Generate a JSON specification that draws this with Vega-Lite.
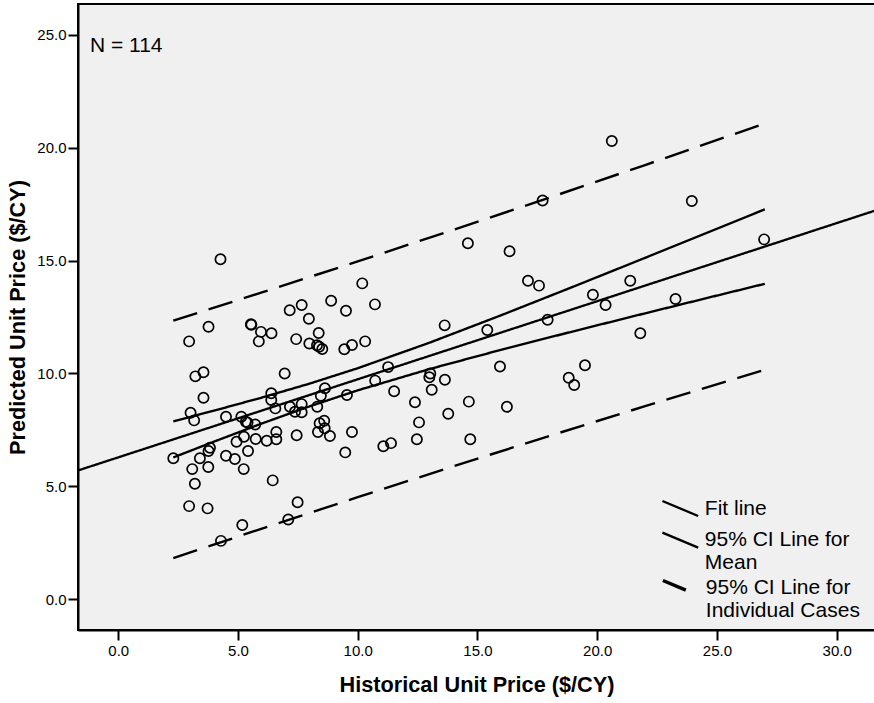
{
  "$schema": "https://vega.github.io/schema/vega-lite/v6.json",
  "width": 797,
  "height": 626,
  "autosize": {"type": "none"},
  "padding": {"left": 78, "top": 4, "right": 0, "bottom": 73},
  "background": "white",
  "config": {
    "font": "Liberation Sans",
    "view": {"fill": "#F0F0F0", "stroke": "#000", "strokeWidth": 2},
    "axis": {
      "grid": false,
      "domainColor": "#000",
      "domainWidth": 2,
      "tickColor": "#000",
      "tickWidth": 2,
      "tickSize": 10,
      "labelFont": "Liberation Sans",
      "labelFontSize": 15,
      "labelColor": "#000",
      "titleFont": "Liberation Sans",
      "titleFontSize": 21.7,
      "titleFontWeight": "bold",
      "titleColor": "#000"
    },
    "legend": {
      "title": null,
      "orient": "none",
      "padding": 0,
      "symbolStrokeColor": "#000",
      "symbolFillColor": "transparent",
      "labelFont": "Liberation Sans",
      "labelFontSize": 21,
      "labelColor": "#000",
      "labelLimit": 0
    }
  },
  "datasets": {
    "points": [
      {"hist": 4.27, "pred": 15.06}, {"hist": 10.19, "pred": 13.99}, {"hist": 7.16, "pred": 12.80}, {"hist": 7.66, "pred": 13.03},
      {"hist": 8.89, "pred": 13.22}, {"hist": 9.51, "pred": 12.78}, {"hist": 7.96, "pred": 12.42}, {"hist": 3.77, "pred": 12.07},
      {"hist": 5.54, "pred": 12.18}, {"hist": 5.56, "pred": 12.16}, {"hist": 2.96, "pred": 11.42}, {"hist": 5.96, "pred": 11.84},
      {"hist": 6.40, "pred": 11.78}, {"hist": 5.87, "pred": 11.42}, {"hist": 7.43, "pred": 11.52}, {"hist": 8.37, "pred": 11.79},
      {"hist": 7.98, "pred": 11.33}, {"hist": 8.30, "pred": 11.25}, {"hist": 8.39, "pred": 11.18}, {"hist": 8.52, "pred": 11.08},
      {"hist": 9.44, "pred": 11.07}, {"hist": 9.76, "pred": 11.26}, {"hist": 10.31, "pred": 11.42}, {"hist": 3.22, "pred": 9.87},
      {"hist": 3.56, "pred": 10.05}, {"hist": 6.95, "pred": 10.00}, {"hist": 3.56, "pred": 8.92}, {"hist": 3.02, "pred": 8.26},
      {"hist": 3.17, "pred": 7.92}, {"hist": 4.50, "pred": 8.08}, {"hist": 5.14, "pred": 8.08}, {"hist": 5.33, "pred": 7.86},
      {"hist": 5.40, "pred": 7.82}, {"hist": 5.72, "pred": 7.74}, {"hist": 6.39, "pred": 9.12}, {"hist": 6.39, "pred": 8.82},
      {"hist": 6.56, "pred": 8.45}, {"hist": 7.17, "pred": 8.52}, {"hist": 7.38, "pred": 8.30}, {"hist": 7.66, "pred": 8.64},
      {"hist": 7.66, "pred": 8.28}, {"hist": 8.31, "pred": 8.52}, {"hist": 8.46, "pred": 9.01}, {"hist": 8.63, "pred": 9.34},
      {"hist": 9.55, "pred": 9.04}, {"hist": 8.41, "pred": 7.79}, {"hist": 8.60, "pred": 7.90}, {"hist": 8.62, "pred": 7.57},
      {"hist": 8.34, "pred": 7.40}, {"hist": 8.84, "pred": 7.23}, {"hist": 9.76, "pred": 7.40}, {"hist": 9.48, "pred": 6.50},
      {"hist": 7.45, "pred": 7.26}, {"hist": 6.60, "pred": 7.40}, {"hist": 6.60, "pred": 7.08}, {"hist": 6.20, "pred": 7.02},
      {"hist": 5.74, "pred": 7.09}, {"hist": 5.25, "pred": 7.19}, {"hist": 4.94, "pred": 6.97}, {"hist": 5.42, "pred": 6.56},
      {"hist": 3.83, "pred": 6.71}, {"hist": 3.77, "pred": 6.56}, {"hist": 2.30, "pred": 6.24}, {"hist": 3.41, "pred": 6.24},
      {"hist": 4.50, "pred": 6.35}, {"hist": 4.87, "pred": 6.21}, {"hist": 3.09, "pred": 5.76}, {"hist": 3.76, "pred": 5.85},
      {"hist": 5.24, "pred": 5.76}, {"hist": 3.20, "pred": 5.11}, {"hist": 6.45, "pred": 5.26}, {"hist": 2.96, "pred": 4.12},
      {"hist": 3.73, "pred": 4.02}, {"hist": 7.49, "pred": 4.29}, {"hist": 7.10, "pred": 3.53}, {"hist": 5.18, "pred": 3.28},
      {"hist": 4.29, "pred": 2.58},
      {"hist": 17.72, "pred": 17.66}, {"hist": 14.60, "pred": 15.77}, {"hist": 16.34, "pred": 15.41}, {"hist": 10.72, "pred": 13.06},
      {"hist": 17.11, "pred": 14.11}, {"hist": 17.57, "pred": 13.89}, {"hist": 13.63, "pred": 12.13}, {"hist": 15.41, "pred": 11.92},
      {"hist": 17.93, "pred": 12.38}, {"hist": 11.27, "pred": 10.28}, {"hist": 10.73, "pred": 9.68}, {"hist": 11.52, "pred": 9.21},
      {"hist": 13.03, "pred": 10.00}, {"hist": 12.99, "pred": 9.83}, {"hist": 13.64, "pred": 9.72}, {"hist": 13.09, "pred": 9.28},
      {"hist": 12.39, "pred": 8.72}, {"hist": 12.56, "pred": 7.83}, {"hist": 12.47, "pred": 7.08}, {"hist": 13.78, "pred": 8.21},
      {"hist": 14.64, "pred": 8.75}, {"hist": 14.70, "pred": 7.08}, {"hist": 15.94, "pred": 10.31}, {"hist": 16.23, "pred": 8.52},
      {"hist": 11.07, "pred": 6.77}, {"hist": 11.39, "pred": 6.91}, {"hist": 18.81, "pred": 9.81}, {"hist": 19.04, "pred": 9.49},
      {"hist": 20.61, "pred": 20.30}, {"hist": 23.95, "pred": 17.64}, {"hist": 26.97, "pred": 15.94}, {"hist": 21.38, "pred": 14.11},
      {"hist": 19.82, "pred": 13.49}, {"hist": 20.35, "pred": 13.03}, {"hist": 23.27, "pred": 13.30}, {"hist": 21.80, "pred": 11.78},
      {"hist": 19.49, "pred": 10.36}
    ],
    "lines": [
      {"series": "Fit line", "part": "fit", "x": -3, "y": 5.242},
      {"series": "Fit line", "part": "fit", "x": 33, "y": 17.698},
      {"series": "95% CI Line for|Mean", "part": "meanLo", "x": 2.3, "y": 6.276},
      {"series": "95% CI Line for|Mean", "part": "meanLo", "x": 4, "y": 6.978},
      {"series": "95% CI Line for|Mean", "part": "meanLo", "x": 6, "y": 7.782},
      {"series": "95% CI Line for|Mean", "part": "meanLo", "x": 8, "y": 8.545},
      {"series": "95% CI Line for|Mean", "part": "meanLo", "x": 10, "y": 9.250},
      {"series": "95% CI Line for|Mean", "part": "meanLo", "x": 13, "y": 10.194},
      {"series": "95% CI Line for|Mean", "part": "meanLo", "x": 16, "y": 11.050},
      {"series": "95% CI Line for|Mean", "part": "meanLo", "x": 19, "y": 11.865},
      {"series": "95% CI Line for|Mean", "part": "meanLo", "x": 22, "y": 12.663},
      {"series": "95% CI Line for|Mean", "part": "meanLo", "x": 25, "y": 13.450},
      {"series": "95% CI Line for|Mean", "part": "meanLo", "x": 27, "y": 13.972},
      {"series": "95% CI Line for|Mean", "part": "meanHi", "x": 2.3, "y": 7.876},
      {"series": "95% CI Line for|Mean", "part": "meanHi", "x": 4, "y": 8.350},
      {"series": "95% CI Line for|Mean", "part": "meanHi", "x": 6, "y": 8.930},
      {"series": "95% CI Line for|Mean", "part": "meanHi", "x": 8, "y": 9.551},
      {"series": "95% CI Line for|Mean", "part": "meanHi", "x": 10, "y": 10.230},
      {"series": "95% CI Line for|Mean", "part": "meanHi", "x": 13, "y": 11.362},
      {"series": "95% CI Line for|Mean", "part": "meanHi", "x": 16, "y": 12.582},
      {"series": "95% CI Line for|Mean", "part": "meanHi", "x": 19, "y": 13.843},
      {"series": "95% CI Line for|Mean", "part": "meanHi", "x": 22, "y": 15.121},
      {"series": "95% CI Line for|Mean", "part": "meanHi", "x": 25, "y": 16.410},
      {"series": "95% CI Line for|Mean", "part": "meanHi", "x": 27, "y": 17.272},
      {"series": "95% CI Line for|Individual Cases", "part": "indLo", "x": 2.3, "y": 1.815},
      {"series": "95% CI Line for|Individual Cases", "part": "indLo", "x": 6, "y": 3.124},
      {"series": "95% CI Line for|Individual Cases", "part": "indLo", "x": 10, "y": 4.517},
      {"series": "95% CI Line for|Individual Cases", "part": "indLo", "x": 14, "y": 5.885},
      {"series": "95% CI Line for|Individual Cases", "part": "indLo", "x": 18, "y": 7.229},
      {"series": "95% CI Line for|Individual Cases", "part": "indLo", "x": 22, "y": 8.549},
      {"series": "95% CI Line for|Individual Cases", "part": "indLo", "x": 27, "y": 10.166},
      {"series": "95% CI Line for|Individual Cases", "part": "indHi", "x": 2.3, "y": 12.337},
      {"series": "95% CI Line for|Individual Cases", "part": "indHi", "x": 6, "y": 13.588},
      {"series": "95% CI Line for|Individual Cases", "part": "indHi", "x": 10, "y": 14.963},
      {"series": "95% CI Line for|Individual Cases", "part": "indHi", "x": 14, "y": 16.363},
      {"series": "95% CI Line for|Individual Cases", "part": "indHi", "x": 18, "y": 17.787},
      {"series": "95% CI Line for|Individual Cases", "part": "indHi", "x": 22, "y": 19.235},
      {"series": "95% CI Line for|Individual Cases", "part": "indHi", "x": 27, "y": 21.078}
    ]
  },
  "layer": [
    {
      "data": {"name": "lines"},
      "mark": {"type": "line", "clip": true, "color": "#000"},
      "encoding": {
        "x": {
          "field": "x", "type": "quantitative",
          "scale": {"domain": [-1.68, 31.6], "nice": false, "zero": false},
          "axis": {"values": [0, 5, 10, 15, 20, 25, 30], "format": ".1f", "title": "Historical Unit Price ($/CY)", "labelPadding": 3, "titlePadding": 16}
        },
        "y": {
          "field": "y", "type": "quantitative",
          "scale": {"domain": [-1.37, 26.37], "nice": false, "zero": false},
          "axis": {"values": [0, 5, 10, 15, 20, 25], "format": ".1f", "title": "Predicted Unit Price ($/CY)", "labelPadding": 2, "titlePadding": 7}
        },
        "detail": {"field": "part"},
        "strokeWidth": {
          "field": "series", "type": "ordinal",
          "scale": {"domain": ["Fit line", "95% CI Line for|Mean", "95% CI Line for|Individual Cases"], "range": [2.3, 2.4, 3.2]},
          "legend": {
            "values": ["Fit line", "95% CI Line for|Mean"],
            "labelExpr": "split(datum.label, '|')",
            "legendX": 589.8,
            "legendY": 492,
            "symbolType": "M-1.6,-0.67L1.6,0.67",
            "symbolSize": 500,
            "labelOffset": 12,
            "rowPadding": 6.6
          }
        },
        "strokeDash": {
          "field": "series", "type": "nominal",
          "scale": {"domain": ["95% CI Line for|Individual Cases", "Fit line", "95% CI Line for|Mean"], "range": [[25, 12], [1, 0], [1, 0]]},
          "legend": {
            "values": ["95% CI Line for|Individual Cases"],
            "labelExpr": "split(datum.label, '|')",
            "legendX": 589.8,
            "legendY": 571,
            "symbolType": "M-1.6,-0.67L0.45,0.19",
            "symbolSize": 500,
            "symbolStrokeWidth": 3.5,
            "labelOffset": 12
          }
        }
      }
    },
    {
      "data": {"name": "points"},
      "mark": {"type": "point", "shape": "circle", "filled": false, "color": "#000", "strokeWidth": 1.7, "size": 105, "opacity": 1},
      "encoding": {
        "x": {"field": "hist", "type": "quantitative"},
        "y": {"field": "pred", "type": "quantitative"}
      }
    },
    {
      "data": {"values": [{}]},
      "mark": {"type": "text", "align": "left", "baseline": "alphabetic", "fontSize": 21, "font": "Liberation Sans", "color": "#000"},
      "encoding": {
        "x": {"datum": -1.18},
        "y": {"datum": 24.26},
        "text": {"value": "N = 114"}
      }
    }
  ]
}
